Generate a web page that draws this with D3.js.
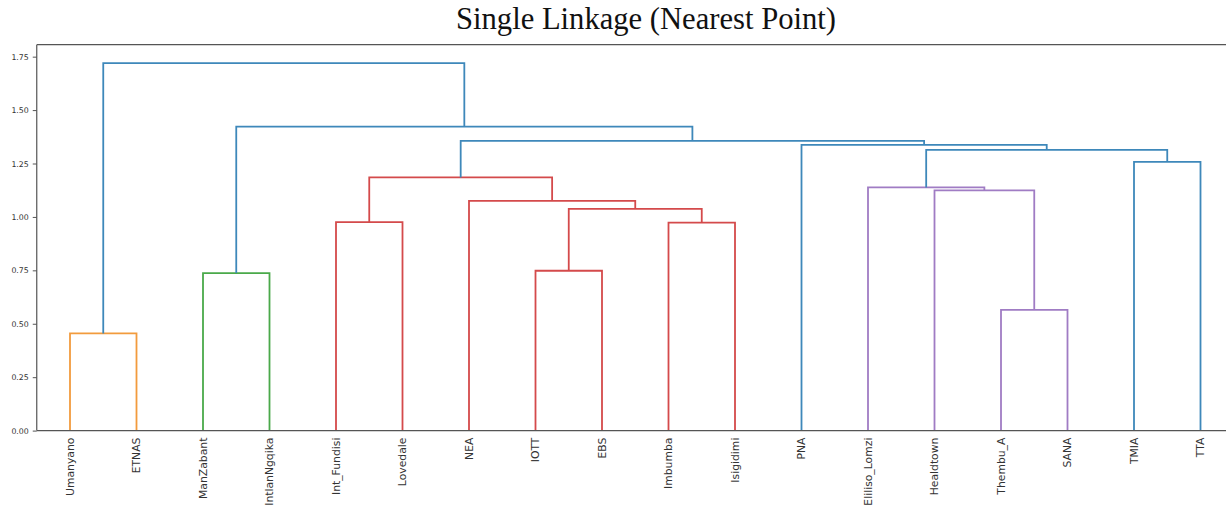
<!DOCTYPE html>
<html>
<head>
<meta charset="utf-8">
<script src="https://cdn.jsdelivr.net/npm/d3@7"></script>
<style>
html,body{margin:0;padding:0;background:#fff;}
svg{display:block;}
</style>
</head>
<body>
<svg id="chart" width="1226" height="510"></svg>
<script>
// ---- data ----
const chartTitle = "Single Linkage (Nearest Point)";
// leaves in display order (ids 0..17)
const leaves = ["Umanyano","ETNAS","ManZabant","IntlanNgqika","Int_Fundisi","Lovedale","NEA","IOTT","EBS","Imbumba","Isigidimi","PNA","Eliliso_Lomzi","Healdtown","Thembu_A","SANA","TMIA","TTA"];
// linkage (scipy style): cluster k gets id 18+k
const linkLeft   = [0, 14, 2, 7, 9, 4, 21, 6, 13, 12, 23, 16, 27, 11, 28, 20, 18];
const linkRight  = [1, 15, 3, 8, 10, 5, 22, 24, 19, 26, 25, 17, 29, 30, 31, 32, 33];
const linkHeight = [0.455, 0.565, 0.737, 0.748, 0.973, 0.976, 1.038, 1.075, 1.124, 1.138, 1.185, 1.258, 1.314, 1.337, 1.356, 1.423, 1.720];
const yTicks = [0, 0.25, 0.5, 0.75, 1.0, 1.25, 1.5, 1.75];

(function () {
// ---- layout ----
const svg = d3.select("#chart");
const pLeft = 36.75, pRight = 1233.75, pTop = 44.7, pBottom = 430.6;
const n = leaves.length;
const maxH = d3.max(linkHeight);
const x = d3.scaleBand().domain(leaves).range([pLeft, pRight]).paddingInner(0).paddingOuter(0);
const y = d3.scaleLinear().domain([0, maxH * 1.05]).range([pBottom, pTop]);

// colour like scipy: threshold 0.7*max, clusters below get successive colours
const palette = ["#f29b3d", "#4aa94a", "#d44a4b", "#a07cc4"];
const aboveColor = "#3e88ba";
const threshold = 0.7 * maxH;

const nodeX = leaves.map(l => x(l) + x.bandwidth() / 2);
const nodeH = leaves.map(() => 0);
const parentOf = {};
linkLeft.forEach((a, k) => { parentOf[a] = n + k; parentOf[linkRight[k]] = n + k; });
linkLeft.forEach((a, k) => {
  const id = n + k;
  nodeX[id] = (nodeX[a] + nodeX[linkRight[k]]) / 2;
  nodeH[id] = linkHeight[k];
});
let colorIdx = 0;
const clusterColor = {};
function colorFor(id) {
  const k = id - n;
  if (linkHeight[k] >= threshold) return aboveColor;
  let cur = id;
  while (parentOf[cur] !== undefined && linkHeight[parentOf[cur] - n] < threshold) cur = parentOf[cur];
  if (clusterColor[cur] === undefined) clusterColor[cur] = palette[(colorIdx++) % palette.length];
  return clusterColor[cur];
}
function leftmost(id) { return id < n ? nodeX[id] : Math.min(leftmost(linkLeft[id - n]), leftmost(linkRight[id - n])); }
linkLeft.map((_, k) => n + k).sort((a, b) => leftmost(a) - leftmost(b)).forEach(id => colorFor(id));

const g = svg.append("g");

// links
linkLeft.forEach((a, k) => {
  const b = linkRight[k];
  const h = linkHeight[k];
  const path = d3.path();
  path.moveTo(nodeX[a], y(nodeH[a]));
  path.lineTo(nodeX[a], y(h));
  path.lineTo(nodeX[b], y(h));
  path.lineTo(nodeX[b], y(nodeH[b]));
  g.append("path").attr("d", path.toString())
    .attr("fill", "none").attr("stroke", colorFor(n + k)).attr("stroke-width", 1.8);
});

// spines
const spine = "#555";
g.append("line").attr("x1", pLeft).attr("x2", pLeft).attr("y1", pTop).attr("y2", pBottom).attr("stroke", spine).attr("stroke-width", 1.2);
g.append("line").attr("x1", pLeft).attr("x2", pRight).attr("y1", pTop).attr("y2", pTop).attr("stroke", spine).attr("stroke-width", 1.2);
g.append("line").attr("x1", pLeft).attr("x2", pRight).attr("y1", pBottom).attr("y2", pBottom).attr("stroke", spine).attr("stroke-width", 1.2);

// y axis
const yAxis = d3.axisLeft(y).tickValues(yTicks).tickFormat(d3.format(".2f")).tickSize(4).tickPadding(4);
const ya = svg.append("g").attr("transform", `translate(${pLeft},0)`).call(yAxis);
ya.select(".domain").remove();
ya.selectAll(".tick line").attr("stroke", "#555").attr("stroke-width", 1);
ya.selectAll(".tick text").attr("font-family", "DejaVu Sans").attr("font-size", "7.8px").attr("fill", "#333");

// x axis (leaf labels)
const xAxis = d3.axisBottom(x).tickSize(0).tickPadding(0);
const xa = svg.append("g").attr("transform", `translate(0,${pBottom})`).call(xAxis);
xa.select(".domain").remove();
xa.selectAll(".tick text")
  .attr("font-family", "DejaVu Sans").attr("font-size", "10.8px").attr("fill", "#333")
  .attr("text-anchor", "end")
  .attr("transform", "rotate(-90)")
  .attr("x", -7).attr("y", 0).attr("dy", "0.35em");

// title
const t = svg.append("text").text(chartTitle)
  .attr("font-family", "Liberation Serif, serif").attr("font-size", "100px")
  .attr("fill", "#111").attr("text-anchor", "middle")
  .attr("x", 646).attr("y", 29);
const w = t.node().getComputedTextLength();
t.attr("font-size", (100 * 380 / w) + "px");
})();
</script>
</body>
</html>
